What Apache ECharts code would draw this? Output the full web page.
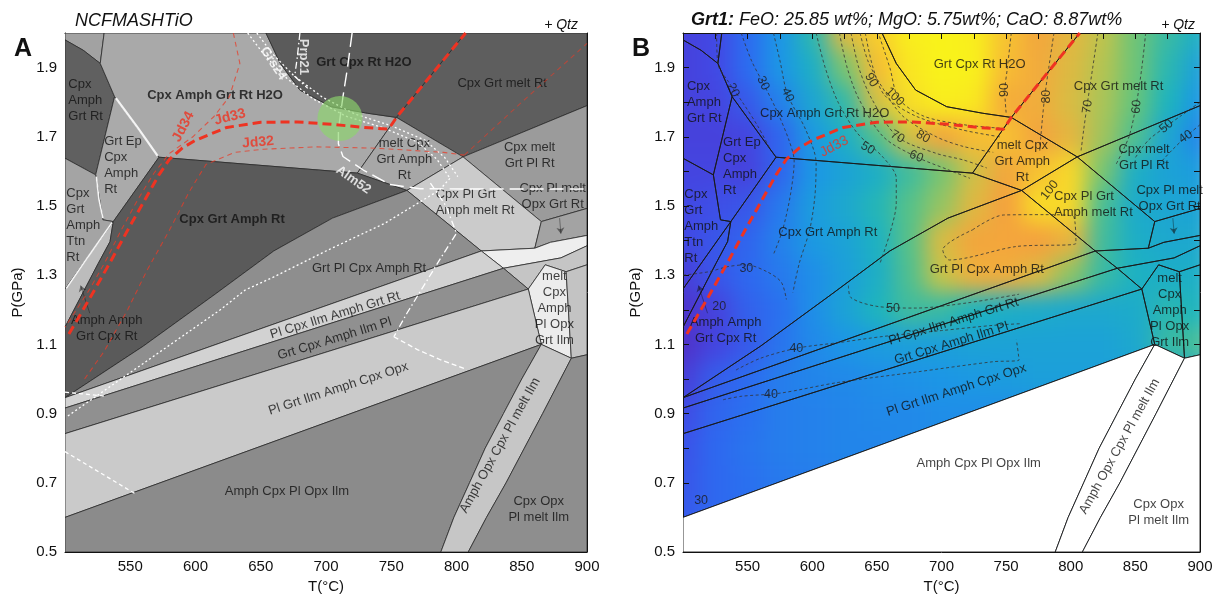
<!DOCTYPE html>
<html><head><meta charset="utf-8">
<script src="https://cdn.jsdelivr.net/npm/echarts/dist/echarts.min.js"></script>
<style>
html,body{margin:0;padding:0;background:#fff;}
#wrap{position:relative;width:1215px;height:597px;overflow:hidden;background:#fff;}
#hmclip{position:absolute;left:683px;top:33px;width:517px;height:519px;overflow:hidden;}
#hm{position:absolute;left:-683px;top:-33px;width:1215px;height:597px;filter:blur(11px);}
#main{position:absolute;left:0;top:0;width:1215px;height:597px;}
</style></head><body>
<div id="wrap"><div id="hmclip"><div id="hm"></div></div><div id="main"></div></div>
<script>
// ---------- Heat-map grid (Grt modal abundance) ----------
const T_COLS = [500,525,550,575,600,625,650,675,700,725,750,775,800,825,850,875,900];
const P_ROWS = [2.0,1.9,1.8,1.7,1.6,1.5,1.4,1.3,1.2,1.1,1.0,0.9,0.8,0.7,0.6,0.5];
const z200 = [18,20,30,40,52,76,98,108,110,108,96,86,77,69,61,54,48];
const z190 = [18,20,30,40,48,62,95,105,110,109,95,84,75,68,61,52,43];
const z180 = [18,19,25,35,45,53,73,102,108,106,92,82,74,67,60,50,40];
const z170 = [18,18,19,28,41,48,57,73,86,95,96,88,77,66,57,45,36];
const z160 = [19,19,18,28,40,44,48,55,62,72,86,96,100,62,48,44,42];
const z150 = [20,22,24,33,42,46,51,58,65,76,90,102,100,56,47,45,44];
const z140 = [20,24,28,35,41,44,49,58,74,86,91,90,78,55,48,46,46];
const z130 = [17,24,29,33,38,43,48,57,70,80,82,75,64,54,49,48,48];
const z120 = [14,18,27,31,38,44,50,55,54,50,48,47,46,46,47,52,50];
const z110 = [13,19,25,32,37,40,42,43,43,44,44,44,44,44,46,54,56];
const z100 = [17,26,30,34,36,37,38,39,40,41,42,43,43,43,43,43,43];
const z090 = [21,28,31,34,35,36,37,37,38,38,38,38,38,38,38,38,38];
const z080 = [23,29,32,34,35,36,36,37,37,37,37,37,37,37,37,37,37];
const z070 = [24,29,31,33,34,35,35,35,35,35,35,35,35,35,35,35,35];
const z060 = [25,29,30,32,32,32,32,32,32,32,32,32,32,32,32,32,32];
const z050 = [30,30,30,30,30,30,30,30,30,30,30,30,30,30,30,30,30];
const Z_ROWS = [z200,z190,z180,z170,z160,z150,z140,z130,z120,z110,z100,z090,z080,z070,z060,z050];

// ---------- Phase fields (T °C, P GPa) ----------
const fTopLeft = [[500,2.0],[530,2.0],[527,1.912],[514,1.95],[500,1.98]];
const fCpxAmphGrtRt = [[500,1.98],[514,1.95],[527,1.912],[538,1.816],[523.5,1.59],[500,1.638]];
const fGrtEpCpxAmphRt = [[538,1.816],[572,1.641],[537,1.455],[529,1.46],[523.5,1.59]];
const fCpxGrtAmphTtnRt = [[500,1.638],[523.5,1.59],[529,1.46],[537,1.455],[500,1.26]];
const fAmphAmphGrtCpxRt = [[537,1.455],[534.5,1.397],[525.5,1.334],[500,1.15],[500,1.26]];
const fCpxAmphGrtRtH2O = [[530,2.0],[654,2.0],[665,1.912],[680,1.835],[704,1.787],[732,1.768],[754,1.756],[724,1.595],[572,1.641],[538,1.816],[527,1.912]];
const fGrtCpxRtH2O = [[654,2.0],[665,1.912],[680,1.835],[704,1.787],[732,1.768],[754,1.756],[807,2.0]];
const fCpxGrtMeltRt = [[807,2.0],[754,1.756],[805,1.642],[900,1.79],[900,2.0]];
const fMeltCpxGrtAmphRt = [[754,1.756],[805,1.642],[762,1.545],[724,1.595]];
const fCpxMeltGrtPlRt = [[805,1.642],[900,1.79],[900,1.493],[865,1.455]];
const fCpxPlGrtAmphMeltRt = [[762,1.545],[805,1.642],[865,1.455],[860,1.378],[819,1.37]];
const fCpxPlMeltOpxGrtRt = [[865,1.455],[900,1.493],[900,1.415],[872,1.395],[860,1.378]];
const fStripeW = [[819,1.37],[860,1.378],[872,1.395],[900,1.415],[900,1.385],[880,1.35],[836,1.32]];
const fStripeL = [[836,1.32],[880,1.35],[900,1.385],[900,1.33],[884,1.31],[868,1.33],[855,1.26]];
const fMeltCpxAmphPlOpxGrtIlm = [[855,1.26],[868,1.33],[884,1.31],[888,1.06],[865,1.10]];
const fRightGray = [[884,1.31],[900,1.33],[900,1.07],[888,1.06]];
const fCpxGrtAmphRt = [[572,1.641],[724,1.595],[762,1.545],[705,1.465],[660,1.37],[615,1.245],[560,1.095],[500,0.946],[500,1.15],[525.5,1.334],[534.5,1.397],[537,1.455]];
const fGrtPlCpxAmphRt = [[500,0.946],[560,1.095],[615,1.245],[660,1.37],[705,1.465],[762,1.545],[819,1.37]];
const fPlCpxIlmAmphGrtRt = [[500,0.946],[819,1.37],[836,1.32],[500,0.916]];
const fGrtCpxAmphIlmPl = [[500,0.916],[836,1.32],[855,1.26],[500,0.842]];
const fPlGrtIlmAmphCpxOpx = [[500,0.842],[855,1.26],[865,1.10],[500,0.60]];
const fAmphCpxPlOpxIlm = [[500,0.5],[500,0.60],[865,1.10],[850,1.0],[836,0.90],[822,0.80],[810,0.70],[798,0.60],[788,0.5]];
const fAmphOpxCpxPlMeltIlm = [[865,1.10],[888,1.06],[877,0.98],[866,0.90],[852,0.80],[838,0.70],[823,0.60],[809,0.5],[788,0.5],[798,0.60],[810,0.70],[822,0.80],[836,0.90],[850,1.0]];
const fCpxOpxPlMeltIlm = [[888,1.06],[900,1.07],[900,0.5],[809,0.5],[823,0.60],[838,0.70],[852,0.80],[866,0.90],[877,0.98]];

// ---------- Isopleths ----------
const lJd33 = [[503,1.13],[520,1.24],[535,1.34],[548,1.43],[560,1.51],[572,1.59],[580,1.635],[590,1.668],[600,1.69],[624,1.727],[650,1.742],[678,1.743],[705,1.736],[729,1.727],[748,1.722],[754,1.756],[807,2.0]];
const lJd34 = [[629,2.0],[634,1.912],[626,1.816],[614,1.758],[598,1.70],[580,1.652],[568,1.594],[556,1.52],[543,1.43],[531,1.34],[519,1.26],[507,1.19],[500,1.15]];
const lJd32a = [[515,1.0],[530,1.08],[548,1.20],[563,1.315],[580,1.43],[595,1.54],[608,1.62],[630,1.655],[652,1.664],[693,1.671],[739,1.667],[790,1.655],[806,1.647]];
const lJd32b = [[806,1.647],[850,1.80],[900,1.97]];
const lGrs24a = [[640,2.0],[652,1.94],[668,1.875],[690,1.81],[715,1.76],[743,1.727],[770,1.685],[785,1.635],[795,1.58]];
const lGrs24b = [[647,2.0],[659,1.94],[675,1.878],[697,1.815],[722,1.766],[750,1.732],[776,1.69],[791,1.64],[801,1.585]];
const lGrsLow = [[795,1.58],[787,1.546],[745,1.45],[700,1.37],[660,1.295],[638,1.257],[619,1.20],[560,1.045],[501,0.89]];
const lWhiteShort1 = [[500,0.962],[532,0.95]];
const lWhiteShort2 = [[500,0.79],[554,0.668]];
const lPrp21a = [[680,2.0],[678,1.93],[676,1.875],[686,1.84]];
const lPrp21b = [[780,1.566],[792,1.50],[800,1.421],[788,1.35],[775,1.27],[762,1.19],[752,1.122]];
const lPrp21c = [[752,1.122],[770,1.085],[788,1.055],[806,1.03]];
const lAlm52 = [[720,2.0],[716.5,1.90],[713,1.816],[709.5,1.72],[709.5,1.68],[713,1.643],[728.6,1.604],[749,1.562],[772,1.55],[820,1.549],[900,1.549]];
const lSliver1 = [[539,1.812],[556,1.725],[571,1.645]];
const lSliver2 = [[524,1.585],[526,1.52],[529,1.465]];
const lSliver3 = [[536,1.452],[518,1.355],[501,1.262]];
const sampleCircle = [[710.7,1.753]];

// panel B garnet-mode contours
const c20 = [[526,2.0],[527,1.91],[535,1.86],[546,1.80],[558,1.73],[568,1.66]];
const c30 = [[545,2.0],[553,1.92],[562,1.855],[572,1.78],[582,1.69],[586,1.63],[583,1.53],[577,1.43],[570,1.36]];
const c30loop = [[500,1.30],[520,1.31],[535,1.325],[549,1.33],[565,1.31],[576,1.28],[580,1.23]];
const c40 = [[570,2.0],[575,1.92],[581,1.821],[595,1.72],[603,1.624],[602,1.527],[598,1.431],[590,1.335],[585,1.25]];
const c50 = [[603,2.0],[610,1.90],[620,1.80],[635,1.71],[655,1.64],[665,1.58],[665,1.51],[660,1.42],[652,1.33]];
const c60 = [[621,2.0],[627,1.90],[636,1.81],[655,1.70],[680,1.643],[705,1.605],[722,1.58]];
const c70 = [[630,2.0],[636,1.90],[646,1.81],[666,1.70],[696,1.652],[717,1.633],[735,1.61]];
const c80 = [[637,2.0],[643,1.92],[653,1.85],[670,1.76],[696,1.70],[717,1.672],[740,1.655]];
const c90 = [[641,2.0],[647,1.90],[656,1.82],[680,1.76],[716,1.72],[745,1.70]];
const c100 = [[652,1.99],[660,1.90],[667,1.81],[686,1.76],[717,1.735],[745,1.725]];
const c90r = [[754,2.0],[751,1.90],[749,1.83],[750,1.77]];
const c80r = [[787,2.0],[783,1.90],[780,1.82],[778,1.75],[776,1.66]];
const c70r = [[821,2.0],[817,1.90],[813,1.80],[810,1.72],[808,1.66]];
const c60r = [[858,2.0],[855,1.90],[851,1.80],[845,1.70],[835,1.62]];
const c50r = [[900,1.80],[885,1.76],[872,1.725],[860,1.69],[850,1.64]];
const c40r = [[900,1.735],[889,1.70],[878,1.66],[868,1.62]];
const c90loop = [[724,1.431],[748,1.474],[780,1.475],[802,1.47],[804,1.392],[758,1.383],[706,1.344],[701,1.373],[724,1.431]];
const c40low1 = [[541,1.026],[560,1.06],[588,1.089],[620,1.105],[655,1.123],[700,1.14],[740,1.155],[762,1.16]];
const c40low2 = [[531,0.94],[545,0.95],[575,0.959],[620,0.99],[680,1.02],[740,1.05],[760,1.055],[758,1.113]];
const c50low = [[628,1.27],[630,1.235],[650,1.21],[680,1.205],[720,1.22],[760,1.245]];

// ---------- Text ----------
const LBL_A_BOLD = [[729,1.916,'Grt Cpx Rt H2O'],[615,1.82,'Cpx Amph Grt Rt H2O'],[628,1.46,'Cpx Grt Amph Rt']];
const LBL_A = [[835,1.854,'Cpx Grt melt Rt'],[760,1.636,'melt Cpx\nGrt Amph\nRt'],[856,1.646,'Cpx melt\nGrt Pl Rt'],[873.7,1.529,'Cpx Pl melt\nOpx Grt Rt'],[733,1.32,'Grt Pl Cpx Amph Rt'],[532,1.145,'Amph Amph\nGrt Cpx Rt'],[670,0.676,'Amph Cpx Pl Opx Ilm'],[863,0.622,'Cpx Opx\nPl melt Ilm'],[875,1.205,'melt\nCpx\nAmph\nPl Opx\nGrt Ilm']];
const LBL_A_LEFT = [[502.5,1.805,'Cpx\nAmph\nGrt Rt'],[530,1.618,'Grt Ep\nCpx\nAmph\nRt'],[501,1.444,'Cpx\nGrt\nAmph\nTtn\nRt'],[784,1.51,'Cpx Pl Grt\nAmph melt Rt']];
const LBL_A_ROT = [[707,1.184,'Pl Cpx Ilm Amph Grt Rt'],[706.6,1.116,'Grt Cpx Amph Ilm Pl'],[709.5,0.972,'Pl Grt Ilm Amph Cpx Opx'],[833.4,0.808,'Amph Opx Cpx Pl melt Ilm']];
const LBL_A_RED = [[590.7,1.729,'Jd34'],[626.4,1.757,'Jd33'],[648,1.684,'Jd32']];
const LBL_A_WHITE = [[659.6,1.912,'Grs24'],[682.6,1.931,'Prp21'],[721,1.575,'Alm52']];
const LBL_B = [[729.5,1.908,'Grt Cpx Rt H2O'],[837,1.847,'Cpx Grt melt Rt'],[609.6,1.768,'Cpx Amph Grt Rt H2O'],[762.5,1.628,'melt Cpx\nGrt Amph\nRt'],[856.7,1.639,'Cpx melt\nGrt Pl Rt'],[876.5,1.522,'Cpx Pl melt\nOpx Grt Rt'],[612,1.424,'Cpx Grt Amph Rt'],[735,1.317,'Grt Pl Cpx Amph Rt'],[533,1.141,'Amph Amph\nGrt Cpx Rt'],[728.8,0.755,'Amph Cpx Pl Opx Ilm'],[868,0.615,'Cpx Opx\nPl melt Ilm'],[876.5,1.197,'melt\nCpx\nAmph\nPl Opx\nGrt Ilm']];
const LBL_B_LEFT = [[503,1.80,'Cpx\nAmph\nGrt Rt'],[531,1.614,'Grt Ep\nCpx\nAmph\nRt'],[501,1.44,'Cpx\nGrt\nAmph\nTtn\nRt'],[787,1.504,'Cpx Pl Grt\nAmph melt Rt']];
const LBL_B_ROT = [[709.4,1.166,'Pl Cpx Ilm Amph Grt Rt'],[707.6,1.103,'Grt Cpx Amph Ilm Pl'],[711.5,0.968,'Pl Grt Ilm Amph Cpx Opx'],[837.8,0.805,'Amph Opx Cpx Pl melt Ilm']];
const LBL_B_RED = [[617,1.672,'Jd33']];
const CLBL_B = [[538.7,1.835,'20'],[562,1.855,'30'],[581,1.821,'40'],[645.7,1.864,'90'],[663.8,1.816,'100'],[666,1.70,'70'],[685.7,1.70,'80'],[643,1.667,'50'],[680.5,1.643,'60'],[749,1.835,'90'],[781,1.816,'80'],[813,1.787,'70'],[851,1.787,'60'],[874,1.73,'50'],[889,1.70,'40'],[783.7,1.546,'100'],[549,1.32,'30'],[528,1.209,'20'],[587.7,1.089,'40'],[662.5,1.204,'50'],[568,0.954,'40'],[514,0.65,'30']];
const ARROWS = [[[879,1.465],[880,1.42]],[[519,1.19],[512,1.27]]];

// ---------- Styles ----------
const FONT = "'Liberation Sans', Arial, sans-serif";
const POLYS = [fTopLeft,fCpxAmphGrtRt,fGrtEpCpxAmphRt,fCpxGrtAmphTtnRt,fAmphAmphGrtCpxRt,fCpxAmphGrtRtH2O,fGrtCpxRtH2O,fCpxGrtMeltRt,fMeltCpxGrtAmphRt,fCpxMeltGrtPlRt,fCpxPlGrtAmphMeltRt,fCpxPlMeltOpxGrtRt,fStripeW,fStripeL,fMeltCpxAmphPlOpxGrtIlm,fRightGray,fCpxGrtAmphRt,fGrtPlCpxAmphRt,fPlCpxIlmAmphGrtRt,fGrtCpxAmphIlmPl,fPlGrtIlmAmphCpxOpx,fAmphCpxPlOpxIlm,fAmphOpxCpxPlMeltIlm,fCpxOpxPlMeltIlm];
const SHADE_A = ['#a2a2a2','#606060','#aaaaaa','#a4a4a4','#bcbcbc','#a9a9a9','#5b5b5b','#5e5e5e','#a7a7a7','#9b9b9b','#cbcbcb','#a3a3a3','#eeeeee','#c5c5c5','#ececec','#c3c3c3','#5a5a5a','#8e8e8e','#d2d2d2','#909090','#cacaca','#8b8b8b','#c6c6c6','#8e8e8e'];
const FILL_B = POLYS.map((p,i)=> i>=21 ? '#ffffff' : null);
const CMAP = [[13,[80,50,200]],[20,[66,72,228]],[30,[44,108,240]],[40,[28,150,230]],[50,[29,180,190]],[60,[100,196,124]],[70,[200,196,72]],[80,[240,176,60]],[90,[244,160,62]],[100,[248,216,42]],[110,[249,243,26]]];
function cmap(v){
  if(v<=CMAP[0][0]) return 'rgb('+CMAP[0][1].join(',')+')';
  for(let i=1;i<CMAP.length;i++){
    if(v<=CMAP[i][0]){const a=CMAP[i-1],b=CMAP[i],f=(v-a[0])/(b[0]-a[0]);
      return 'rgb('+[0,1,2].map(k=>Math.round(a[1][k]+(b[1][k]-a[1][k])*f)).join(',')+')';}
  }
  return 'rgb('+CMAP[CMAP.length-1][1].join(',')+')';
}

// ---------- Heat-map layer (blurred) ----------
const cells=[];
P_ROWS.forEach((p,i)=>T_COLS.forEach((t,j)=>cells.push([t,p,Z_ROWS[i][j]])));
const hm = echarts.init(document.getElementById('hm'));
hm.setOption({
  animation:false,
  grid:{left:683,top:33,width:517,height:519,outerBoundsMode:'none',containLabel:false},
  xAxis:{type:'value',min:500,max:900,show:false},
  yAxis:{type:'value',min:0.5,max:2.0,show:false},
  series:[{type:'custom',coordinateSystem:'cartesian2d',clip:false,silent:true,data:cells,
    renderItem:function(params,api){
      const t=api.value(0),p=api.value(1),v=api.value(2);
      let x0=t-12.5,x1=t+12.5,y0=p-0.05,y1=p+0.05;
      if(t<=500) x0-=40; if(t>=900) x1+=40; if(p>=1.999) y1+=0.15; if(p<=0.501) y0-=0.15;
      const a=api.coord([x0,y1]), b=api.coord([x1,y0]);
      return {type:'rect',shape:{x:a[0],y:a[1],width:b[0]-a[0]+1,height:b[1]-a[1]+1},style:{fill:cmap(v)}};
    }}]
});

// ---------- Main chart ----------
function xFmt(v){return (v%50===0 && v!==500)?String(v):'';}
function yFmt(v){const k=Math.round(v*10);return (k%2===1)?(k/10).toFixed(1):'';}
function xAx(g,pos,main){
  return {gridIndex:g,type:'value',min:500,max:900,interval:25,position:pos,
    axisLine:{show:true,onZero:false,lineStyle:{color:'#111',width:1}},
    axisTick:{show:true,inside:true,length:6,lineStyle:{color:'#111',width:1}},
    axisLabel:{show:main,interval:0,formatter:xFmt,fontSize:15,color:'#111',margin:7,fontFamily:FONT},
    splitLine:{show:false},
    name:main?'T(°C)':'',nameLocation:'middle',nameGap:27,nameTextStyle:{fontSize:15,color:'#111',fontFamily:FONT}};
}
function yAx(g,pos,main){
  return {gridIndex:g,type:'value',min:0.5,max:2.0,interval:0.1,position:pos,
    axisLine:{show:true,onZero:false,lineStyle:{color:'#111',width:1}},
    axisTick:{show:true,inside:true,length:6,lineStyle:{color:'#111',width:1}},
    axisLabel:{show:main,interval:0,formatter:yFmt,fontSize:15,color:'#111',margin:8,fontFamily:FONT},
    splitLine:{show:false},
    name:main?'P(GPa)':'',nameLocation:'middle',nameGap:40,nameRotate:90,nameTextStyle:{fontSize:15,color:'#111',fontFamily:FONT}};
}
function polySeries(xi,yi,fills,stroke,lw){
  return {type:'custom',coordinateSystem:'cartesian2d',xAxisIndex:xi,yAxisIndex:yi,clip:true,silent:true,z:1,
    data:POLYS.map((p,i)=>[500,0.5,i]),
    renderItem:function(params,api){
      const idx=api.value(2);
      const pts=POLYS[idx].map(q=>api.coord(q));
      return {type:'polygon',shape:{points:pts},style:{fill:fills[idx]||'rgba(0,0,0,0)',stroke:stroke,lineWidth:lw,lineJoin:'round'}};
    }};
}
function lineS(xi,yi,data,color,width,type,z,smooth){
  return {type:'line',xAxisIndex:xi,yAxisIndex:yi,data:data,symbol:'none',showSymbol:false,silent:true,clip:true,z:z||4,
    smooth:smooth||0,lineStyle:{color:color,width:width,type:type}};
}
function labelS(xi,yi,items,opts){
  const st=Object.assign({fontSize:13,color:'#111',fontFamily:FONT,fontWeight:'normal',lineHeight:16,position:'inside',rotate:[],z:3},opts||{});
  return {type:'scatter',xAxisIndex:xi,yAxisIndex:yi,silent:true,z:st.z,symbolSize:0.1,itemStyle:{color:'rgba(0,0,0,0)'},
    data:items.map((d,i)=>({value:[d[0],d[1]],name:d[2],label:{rotate:st.rotate[i]||0}})),
    label:{show:true,position:st.position,distance:0,formatter:p=>p.name,fontSize:st.fontSize,color:st.color,
      fontFamily:FONT,fontWeight:st.fontWeight,lineHeight:st.lineHeight,align:st.position==='right'?'left':'center',
      textBorderWidth:0}};
}
function arrowS(xi,yi){
  return {type:'lines',coordinateSystem:'cartesian2d',xAxisIndex:xi,yAxisIndex:yi,silent:true,z:3,
    data:ARROWS.map(a=>({coords:a})),symbol:['none','arrow'],symbolSize:6,lineStyle:{color:'#111',width:0.8}};
}

const WHITE_DOT=[2,2.5], RED_THICK=[9,5], RED_THIN=[5,4], CONT=[3,2.5];
const series = [
  // panel A
  polySeries(0,0,SHADE_A,'#2b2b2b',0.8),
  lineS(0,0,lSliver1,'#f4f4f4',2.2,'solid',2),
  lineS(0,0,lSliver2,'#f4f4f4',1.6,'solid',2),
  lineS(0,0,lSliver3,'#f4f4f4',1.6,'solid',2),
  labelS(0,0,LBL_A_BOLD,{fontWeight:'bold'}),
  labelS(0,0,LBL_A),
  labelS(0,0,LBL_A_LEFT,{position:'right'}),
  labelS(0,0,LBL_A_ROT,{rotate:[17,17,18,61]}),
  arrowS(0,0),
  lineS(0,0,lGrs24a,'#ffffff',1.3,WHITE_DOT,4),
  lineS(0,0,lGrs24b,'#ffffff',1.3,WHITE_DOT,4),
  lineS(0,0,lGrsLow,'#ffffff',1.3,WHITE_DOT,4),
  lineS(0,0,lWhiteShort1,'#ffffff',1.3,[4,3],4),
  lineS(0,0,lWhiteShort2,'#ffffff',1.3,[4,3],4),
  lineS(0,0,lPrp21a,'#ffffff',1.3,[7,3,1.5,3],4),
  lineS(0,0,lPrp21b,'#ffffff',1.3,[7,3,1.5,3],4),
  lineS(0,0,lPrp21c,'#ffffff',1.3,[5,3],4),
  lineS(0,0,lAlm52,'#ffffff',1.4,[14,6],4),
  labelS(0,0,LBL_A_WHITE,{color:'#ffffff',fontWeight:'bold',rotate:[-57,-90,-35],z:5}),
  {type:'scatter',xAxisIndex:0,yAxisIndex:0,silent:true,z:5,data:sampleCircle,symbolSize:45,itemStyle:{color:'rgba(140,214,108,0.82)'}},
  lineS(0,0,lJd34,'rgba(232,60,40,0.75)',1.1,RED_THIN,6),
  lineS(0,0,lJd32a,'rgba(232,60,40,0.75)',1.1,RED_THIN,6),
  lineS(0,0,lJd32b,'rgba(232,60,40,0.6)',1.1,RED_THIN,6),
  lineS(0,0,lJd33,'#ee3322',3,RED_THICK,6),
  labelS(0,0,LBL_A_RED,{color:'#ee3322',fontWeight:'bold',fontSize:14,rotate:[62,14,5],z:7}),
  // panel B
  polySeries(2,2,FILL_B,'#1a1a1a',0.9),
  lineS(2,2,c20,'#333',0.8,CONT,2,0.3),
  lineS(2,2,c30,'#333',0.8,CONT,2,0.3),
  lineS(2,2,c30loop,'#333',0.8,CONT,2,0.3),
  lineS(2,2,c40,'#333',0.8,CONT,2,0.3),
  lineS(2,2,c50,'#333',0.8,CONT,2,0.3),
  lineS(2,2,c60,'#333',0.8,CONT,2,0.3),
  lineS(2,2,c70,'#333',0.8,CONT,2,0.3),
  lineS(2,2,c80,'#333',0.8,CONT,2,0.3),
  lineS(2,2,c90,'#333',0.8,CONT,2,0.3),
  lineS(2,2,c100,'#333',0.8,CONT,2,0.3),
  lineS(2,2,c90r,'#333',0.8,CONT,2,0.3),
  lineS(2,2,c80r,'#333',0.8,CONT,2,0.3),
  lineS(2,2,c70r,'#333',0.8,CONT,2,0.3),
  lineS(2,2,c60r,'#333',0.8,CONT,2,0.3),
  lineS(2,2,c50r,'#333',0.8,CONT,2,0.3),
  lineS(2,2,c40r,'#333',0.8,CONT,2,0.3),
  lineS(2,2,c90loop,'#333',0.8,CONT,2,0.3),
  lineS(2,2,c40low1,'#333',0.8,CONT,2,0.3),
  lineS(2,2,c40low2,'#333',0.8,CONT,2,0.3),
  lineS(2,2,c50low,'#333',0.8,CONT,2,0.3),
  labelS(2,2,LBL_B),
  labelS(2,2,LBL_B_LEFT,{position:'right'}),
  labelS(2,2,LBL_B_ROT,{rotate:[17,17,18,61]}),
  labelS(2,2,CLBL_B,{fontSize:12.5,color:'#1a1a1a',rotate:[-65,-65,-65,-60,-45,-30,-30,-30,-22,90,90,82,85,40,35,52,0,0,0,0,0,0]}),
  arrowS(2,2),
  lineS(2,2,lJd33,'#ee3322',3,RED_THICK,6),
  labelS(2,2,LBL_B_RED,{color:'#ee3322',fontSize:14,rotate:[28],z:7})
];

const main = echarts.init(document.getElementById('main'));
main.setOption({
  animation:false,
  backgroundColor:'transparent',
  textStyle:{fontFamily:FONT},
  title:[
    {text:'NCFMASHTiO',left:70,top:7,textStyle:{fontSize:18,fontStyle:'italic',fontWeight:'normal',color:'#111',fontFamily:FONT}},
    {text:'+ Qtz',right:632,top:13,textStyle:{fontSize:14,fontStyle:'italic',fontWeight:'normal',color:'#111',fontFamily:FONT}},
    {text:'A',left:9,top:32,textStyle:{fontSize:25,fontWeight:'bold',color:'#111',fontFamily:FONT}},
    {text:'{b|Grt1:} FeO: 25.85 wt%; MgO: 5.75wt%; CaO: 8.87wt%',left:686,top:6,
      textStyle:{fontSize:18,fontStyle:'italic',fontWeight:'normal',color:'#111',fontFamily:FONT,
        rich:{b:{fontSize:18,fontStyle:'italic',fontWeight:'bold',color:'#111',fontFamily:FONT}}}},
    {text:'+ Qtz',right:15,top:13,textStyle:{fontSize:14,fontStyle:'italic',fontWeight:'normal',color:'#111',fontFamily:FONT}},
    {text:'B',left:627,top:32,textStyle:{fontSize:25,fontWeight:'bold',color:'#111',fontFamily:FONT}}
  ],
  grid:[
    {left:65,top:33,width:522,height:519,outerBoundsMode:'none',containLabel:false},
    {left:683,top:33,width:517,height:519,outerBoundsMode:'none',containLabel:false}
  ],
  xAxis:[xAx(0,'bottom',true),xAx(0,'top',false),xAx(1,'bottom',true),xAx(1,'top',false)],
  yAxis:[yAx(0,'left',true),yAx(0,'right',false),yAx(1,'left',true),yAx(1,'right',false)],
  series:series
});
</script></body></html>
